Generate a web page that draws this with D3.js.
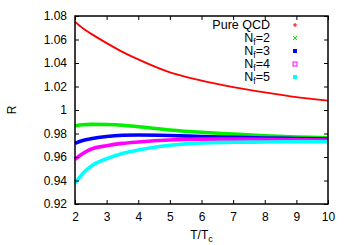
<!DOCTYPE html>
<html>
<head>
<meta charset="utf-8">
<script src="https://cdn.jsdelivr.net/npm/d3@7"></script>
<style>
  body { margin: 0; background: #fff; }
  text { font-family: "Liberation Sans", Arial, sans-serif; fill: #000; }
</style>
</head>
<body>
<div id="chart"></div>
<script>
var T = [2, 2.25, 2.5, 3, 3.5, 4, 5, 6, 7, 8, 9, 10];
var pureQCD = [1.075, 1.0695, 1.065, 1.057, 1.0495, 1.043, 1.032, 1.025, 1.0195, 1.015, 1.011, 1.008];
var nf2 = [0.9866, 0.9874, 0.9878, 0.9876, 0.987, 0.9858, 0.983, 0.981, 0.9795, 0.978, 0.977, 0.9764];
var nf3 = [0.9716, 0.974, 0.9755, 0.9775, 0.9785, 0.9787, 0.9783, 0.9775, 0.9768, 0.9762, 0.9757, 0.9753];
var nf4 = [0.958, 0.963, 0.9666, 0.9696, 0.9716, 0.9728, 0.9745, 0.9752, 0.9752, 0.975, 0.9748, 0.9745];
var nf5 = [0.9376, 0.946, 0.952, 0.9585, 0.963, 0.966, 0.970, 0.972, 0.9725, 0.9728, 0.973, 0.973];
var xTicks = [2, 3, 4, 5, 6, 7, 8, 9, 10];
var yTicks = [0.92, 0.94, 0.96, 0.98, 1, 1.02, 1.04, 1.06, 1.08];

var series = [
  { name: "Pure QCD", sub: null, values: pureQCD, color: "#ff0000", width: 1.9, marker: "plus" },
  { name: "N", sub: "f", tail: "=2", values: nf2, color: "#00ee00", width: 3.6, marker: "cross" },
  { name: "N", sub: "f", tail: "=3", values: nf3, color: "#0000ff", width: 3.6, marker: "square" },
  { name: "N", sub: "f", tail: "=4", values: nf4, color: "#ff00ff", width: 3.6, marker: "open" },
  { name: "N", sub: "f", tail: "=5", values: nf5, color: "#00ffff", width: 3.6, marker: "square" }
];

var width = 350, height = 245;
var margin = { left: 75, right: 22, top: 16, bottom: 41 };

var svg = d3.select("#chart").append("svg")
  .attr("width", width)
  .attr("height", height);

var x = d3.scaleLinear().domain([2, 10]).range([margin.left, width - margin.right]);
var y = d3.scaleLinear().domain([0.92, 1.08]).range([height - margin.bottom, margin.top]);

// curves
var line = d3.line()
  .x(function(d) { return x(d[0]); })
  .y(function(d) { return y(d[1]); })
  .curve(d3.curveMonotoneX);

series.forEach(function(s) {
  svg.append("path")
    .datum(T.map(function(t, i) { return [t, s.values[i]]; }))
    .attr("fill", "none")
    .attr("stroke", s.color)
    .attr("stroke-width", s.width)
    .attr("d", line);
});

// axes, ticks inward and mirrored
var tl = 4;
svg.append("g")
  .attr("transform", "translate(0," + y.range()[0] + ")")
  .call(d3.axisBottom(x).tickValues(xTicks).tickSizeInner(-tl).tickSizeOuter(0).tickPadding(8))
  .call(function(g) { g.select(".domain").remove(); });
svg.append("g")
  .attr("transform", "translate(0," + y.range()[1] + ")")
  .call(d3.axisTop(x).tickValues(xTicks).tickSizeInner(-tl).tickSizeOuter(0).tickFormat(""))
  .call(function(g) { g.select(".domain").remove(); });
svg.append("g")
  .attr("transform", "translate(" + x.range()[0] + ",0)")
  .call(d3.axisLeft(y).tickValues(yTicks).tickSizeInner(-tl).tickSizeOuter(0).tickPadding(8)
    .tickFormat(function(d) { return d3.format("")(+d.toFixed(2)); }))
  .call(function(g) { g.select(".domain").remove(); });
svg.append("g")
  .attr("transform", "translate(" + x.range()[1] + ",0)")
  .call(d3.axisRight(y).tickValues(yTicks).tickSizeInner(-tl).tickSizeOuter(0).tickFormat(""))
  .call(function(g) { g.select(".domain").remove(); });

svg.selectAll(".tick text").attr("font-size", 12).attr("font-family", "Liberation Sans, Arial, sans-serif");
svg.selectAll(".tick line").attr("stroke", "#000").attr("stroke-width", 1);

svg.append("rect")
  .attr("x", x.range()[0])
  .attr("y", y.range()[1])
  .attr("width", x.range()[1] - x.range()[0])
  .attr("height", y.range()[0] - y.range()[1])
  .attr("fill", "none")
  .attr("stroke", "#000")
  .attr("stroke-width", 1.5);

// axis titles
var xt = svg.append("text")
  .attr("x", (x.range()[0] + x.range()[1]) / 2)
  .attr("y", 239)
  .attr("text-anchor", "middle")
  .attr("font-size", 12);
xt.append("tspan").text("T/T");
xt.append("tspan").attr("font-size", 9).attr("dy", 3).text("c");

svg.append("text")
  .attr("x", 12)
  .attr("y", 110)
  .attr("text-anchor", "middle")
  .attr("font-size", 12)
  .attr("transform", "rotate(-90,12,110)")
  .attr("dy", "0.35em")
  .text("R");

// legend
var legX = 270, markX = 295;
series.forEach(function(s, i) {
  var ly = 25 + i * 13;
  var t = svg.append("text")
    .attr("x", legX)
    .attr("y", ly)
    .attr("dy", "0.35em")
    .attr("text-anchor", "end")
    .attr("font-size", 12.5);
  t.append("tspan").text(s.name);
  if (s.sub) {
    t.append("tspan").attr("font-size", 8.5).attr("dy", 3).text(s.sub);
    t.append("tspan").attr("dy", -3).text(s.tail);
  }
  var m = svg.append("g").attr("transform", "translate(" + markX + "," + ly + ")");
  if (s.marker === "plus") {
    m.append("path").attr("d", "M-2,0H2M0,-2V2").attr("stroke", s.color).attr("stroke-width", 1);
  } else if (s.marker === "cross") {
    m.append("path").attr("d", "M-2,-2L2,2M-2,2L2,-2").attr("stroke", s.color).attr("stroke-width", 1);
  } else if (s.marker === "open") {
    m.append("rect").attr("x", -2).attr("y", -2).attr("width", 4).attr("height", 4)
      .attr("fill", "none").attr("stroke", s.color).attr("stroke-width", 1);
  } else {
    m.append("rect").attr("x", -2).attr("y", -2).attr("width", 4).attr("height", 4)
      .attr("fill", s.color);
  }
});
</script>
</body>
</html>
